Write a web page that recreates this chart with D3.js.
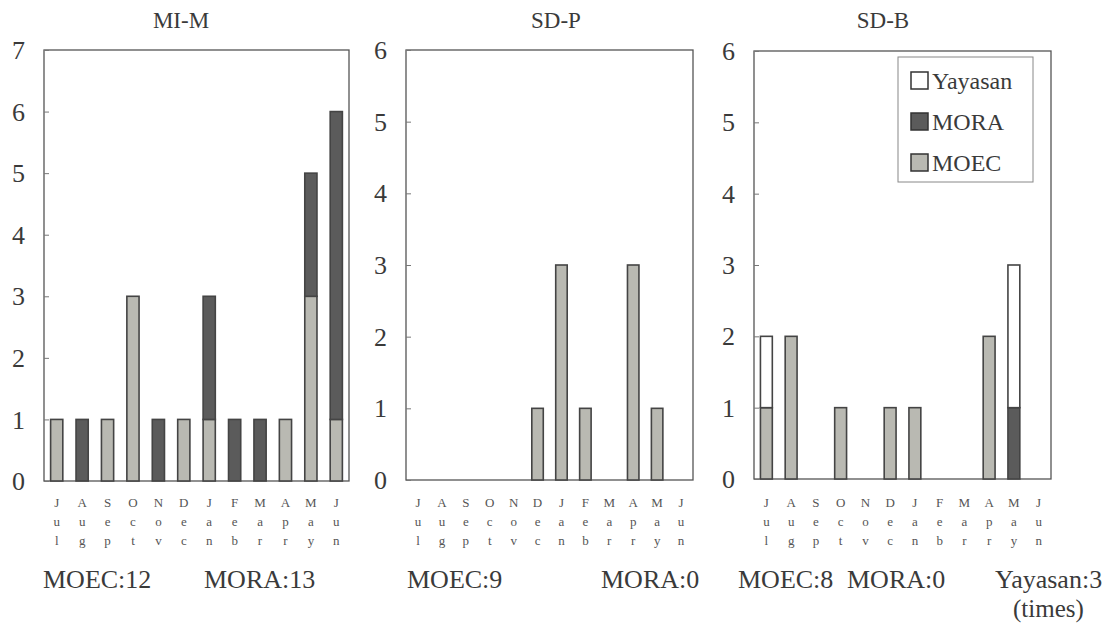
<!DOCTYPE html>
<html>
<head>
<meta charset="utf-8">
<script src="https://cdn.jsdelivr.net/npm/d3@7"></script>
<style>
 body { margin:0; background:#ffffff; }
 svg text { font-family:"Liberation Serif","Times New Roman",serif; fill:#3a3a3a; }
</style>
</head>
<body>
<script>
// months, shown as stacked letters under each bar
var months = ["Jul","Aug","Sep","Oct","Nov","Dec","Jan","Feb","Mar","Apr","May","Jun"];
var keys = ["MOEC","MORA","Yayasan"];

// MI-M
var mimMOEC = [1,0,1,3,0,1,1,0,0,1,3,1];
var mimMORA = [0,1,0,0,1,0,2,1,1,0,2,5];
var mimYay  = [0,0,0,0,0,0,0,0,0,0,0,0];
// SD-P
var sdpMOEC = [0,0,0,0,0,1,3,1,0,3,1,0];
var sdpMORA = [0,0,0,0,0,0,0,0,0,0,0,0];
var sdpYay  = [0,0,0,0,0,0,0,0,0,0,0,0];
// SD-B
var sdbMOEC = [1,2,0,1,0,1,1,0,0,2,0,0];
var sdbMORA = [0,0,0,0,0,0,0,0,0,0,1,0];
var sdbYay  = [1,0,0,0,0,0,0,0,0,0,2,0];

var colors = {MOEC:"#b9b9b2", MORA:"#5b5b5b", Yayasan:"#ffffff"};

var svg = d3.select("body").append("svg")
    .attr("width",1108).attr("height",628)
    .attr("font-family","Liberation Serif, Times New Roman, serif");

var panels = [
  {x0:44,  x1:349,  y0:50, y1:481, title:"MI-M", tx:181, m:mimMOEC, r:mimMORA, yy:mimYay, ymax:7,
   foot:[[43,"MOEC:12"],[204,"MORA:13"]]},
  {x0:406, x1:693,  y0:50, y1:480, title:"SD-P", tx:556, m:sdpMOEC, r:sdpMORA, yy:sdpYay, ymax:6,
   foot:[[407,"MOEC:9"],[601,"MORA:0"]]},
  {x0:754, x1:1051, y0:51, y1:479, title:"SD-B", tx:883, m:sdbMOEC, r:sdbMORA, yy:sdbYay, ymax:6,
   foot:[[738,"MOEC:8"],[847,"MORA:0"],[995,"Yayasan:3"]]}
];

panels.forEach(function(p){
  var g = svg.append("g");
  var x = d3.scaleBand().domain(months).range([p.x0,p.x1]).paddingInner(0.52).paddingOuter(0.26);
  var y = d3.scaleLinear().domain([0,p.ymax]).range([p.y1,p.y0]);

  var rows = months.map(function(mo,i){ return {month:mo, MOEC:p.m[i], MORA:p.r[i], Yayasan:p.yy[i]}; });
  var series = d3.stack().keys(keys)(rows);

  // frame
  g.append("rect").attr("x",p.x0).attr("y",p.y0)
    .attr("width",p.x1-p.x0).attr("height",p.y1-p.y0)
    .attr("fill","none").attr("stroke","#555").attr("stroke-width",1.3);

  // y axis with inward ticks
  var ya = g.append("g").attr("transform","translate("+p.x0+",0)")
    .call(d3.axisRight(y).ticks(p.ymax).tickSize(5).tickFormat(""));
  ya.select(".domain").remove();
  ya.selectAll("line").attr("stroke","#777");
  g.selectAll(".ylab").data(y.ticks(p.ymax)).enter().append("text")
    .attr("x",p.x0-19).attr("y",function(d){return y(d);})
    .attr("dy","0.35em").attr("text-anchor","end")
    .style("font-size","26px").text(function(d){return d;});

  // bars
  g.selectAll(".s").data(series).enter().append("g")
    .attr("fill",function(d){return colors[d.key];})
    .selectAll("rect").data(function(d){return d.filter(function(v){return v[1]>v[0];});})
    .enter().append("rect")
    .attr("x",function(d){return x(d.data.month);})
    .attr("width",x.bandwidth())
    .attr("y",function(d){return y(d[1]);})
    .attr("height",function(d){return y(d[0])-y(d[1]);})
    .attr("stroke","#444").attr("stroke-width",1.6);

  // month letters
  months.forEach(function(mo){
    mo.split("").forEach(function(ch,k){
      g.append("text").attr("x",x(mo)+x.bandwidth()/2).attr("y",507+k*19)
        .attr("text-anchor","middle").style("font-size","13px").style("fill","#555").text(ch);
    });
  });

  // title
  g.append("text").attr("x",p.tx).attr("y",28).attr("text-anchor","middle")
    .style("font-size","23px").text(p.title);

  // footer totals
  p.foot.forEach(function(f){
    g.append("text").attr("x",f[0]).attr("y",588)
      .style("font-size","26px").text(f[1]);
  });
});

svg.append("text").attr("x",1013).attr("y",617)
  .style("font-size","25px").text("(times)");

// legend inside SD-B
var lg = svg.append("g").attr("transform","translate(898,57)");
lg.append("rect").attr("width",135).attr("height",125)
  .attr("fill","#fff").attr("stroke","#888").attr("stroke-width",1);
["Yayasan","MORA","MOEC"].forEach(function(k,i){
  lg.append("rect").attr("x",13).attr("y",15+i*41).attr("width",17).attr("height",17)
    .attr("fill",colors[k]).attr("stroke","#333").attr("stroke-width",1.5);
  lg.append("text").attr("x",34).attr("y",24+i*41).attr("dy","0.35em")
    .style("font-size","24px").text(k);
});
</script>
</body>
</html>
